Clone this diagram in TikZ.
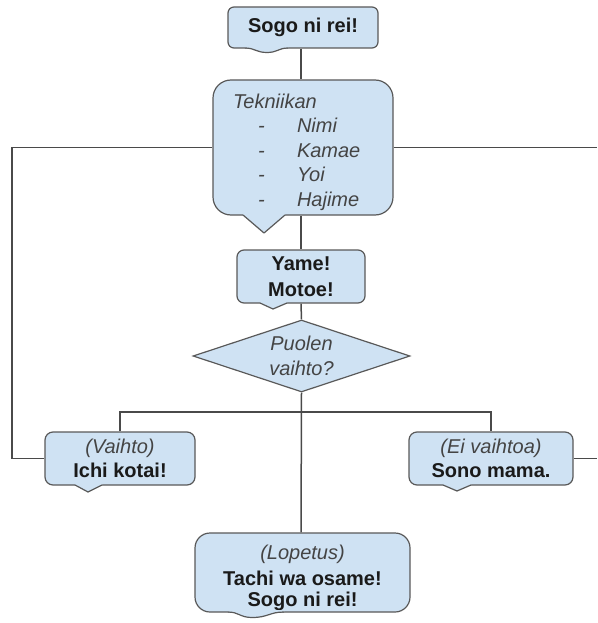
\documentclass[tikz,border=0pt]{standalone}
\usepackage{fontspec}
\setmainfont{Liberation Sans}
\usetikzlibrary{shapes.geometric,calc}
\definecolor{boxfill}{HTML}{CFE2F3}
\definecolor{boxedge}{HTML}{595959}
\definecolor{wire}{HTML}{4A4A4A}
\definecolor{itgray}{HTML}{444444}
\definecolor{bdtext}{HTML}{1A1A1A}
\pgfdeclarelayer{bg}
\pgfsetlayers{bg,main}
\tikzset{
  box/.style={draw=boxedge, line width=1.2pt, fill=boxfill, align=center,
    font=\fontsize{20}{24.5}\selectfont, text=bdtext, inner sep=0pt},
  conn/.style={draw=wire, line width=1.5pt},
  tipedge/.style={draw=boxedge, line width=1.2pt, line join=round},
}
\newcommand\itx[1]{{\itshape\color{itgray}#1}}
\newcommand\bdx[1]{{\bfseries #1}}
\newcommand\calltip[5]{%
  \fill[boxfill] (#1,#4-2) -- (#1,#4) -- (#2,#5) -- (#3,#4) -- (#3,#4-2) -- cycle;
  \draw[tipedge] (#1,#4) -- (#2,#5) -- (#3,#4);}
\newcommand\callbump[5]{%
  \fill[boxfill] (#1,#4-2) -- (#1,#4) .. controls ($(#1,#4)!0.45!(#2,#4)$) and ($(#1,#5)!0.5!(#2,#5)$) .. (#2,#5)
     .. controls ($(#2,#5)!0.5!(#3,#5)$) and ($(#2,#4)!0.55!(#3,#4)$) .. (#3,#4) -- (#3,#4-2) -- cycle;
  \draw[tipedge] (#1,#4) .. controls ($(#1,#4)!0.45!(#2,#4)$) and ($(#1,#5)!0.5!(#2,#5)$) .. (#2,#5)
     .. controls ($(#2,#5)!0.5!(#3,#5)$) and ($(#2,#4)!0.55!(#3,#4)$) .. (#3,#4);}
\begin{document}
\begin{tikzpicture}[x=1pt,y=-1pt]
\useasboundingbox (0,0) rectangle (597,623);
% nodes
\node[box, rounded corners=6pt, minimum width=150pt, minimum height=41pt] (top) at (303,27.5) {\bdx{Sogo ni rei!}};
\node[box, rounded corners=18pt, minimum width=180pt, minimum height=135pt, text width=140pt, align=left, inner xsep=20pt] (tek) at (303,147.5)
  {\rule{0pt}{24pt}\itx{Tekniikan}\\
   \makebox[64pt][l]{\hspace*{25pt}\itx{-}}\itx{Nimi}\\
   \makebox[64pt][l]{\hspace*{25pt}\itx{-}}\itx{Kamae}\\
   \makebox[64pt][l]{\hspace*{25pt}\itx{-}}\itx{Yoi}\\
   \makebox[64pt][l]{\hspace*{25pt}\itx{-}}\itx{Hajime}};
\node[box, rounded corners=7pt, minimum width=128pt, minimum height=53pt] (yame) at (301,276.5) {\bdx{Yame!}\\[1.5pt]\bdx{Motoe!}};
\node[box, shape=diamond, shape aspect=3, minimum width=217pt, minimum height=72pt] (dec) at (301.5,356) {\itx{Puolen}\\\itx{vaihto?}};
\node[box, rounded corners=8pt, minimum width=150pt, minimum height=53pt] (ichi) at (120,458.5) {\itx{(Vaihto)}\\\bdx{Ichi kotai!}};
\node[box, rounded corners=8pt, minimum width=164pt, minimum height=53pt] (sono) at (491,458.5) {\itx{(Ei vaihtoa)}\\\bdx{Sono mama.}};
\node[box, rounded corners=15pt, minimum width=215pt, minimum height=79pt] (lop) at (302.5,572.5) {\rule{0pt}{26pt}\itx{(Lopetus)}\\[1.5pt]\bdx{Tachi wa osame!}\\[-3.5pt]\bdx{Sogo ni rei!}};
% pointers
\callbump{245}{267}{288}{48}{52.5}
\calltip{243}{264}{285}{215}{233}
\calltip{260}{273}{287}{303}{309}
\calltip{75}{88}{102}{485}{492}
\calltip{443}{457}{471}{485}{491}
\callbump{228}{252}{284}{612}{617.5}
% connectors
\coordinate (spine) at (301,0);
\coordinate (busmid) at (301,412);
\coordinate (leftx) at (12,0);
\coordinate (redge1) at (597,147.5);
\coordinate (redge2) at (597,458.5);
\begin{pgfonlayer}{bg}
\draw[conn] (top.south -| spine) -- (tek.north -| spine);
\draw[conn] (tek.south -| spine) -- (yame.north -| spine);
\draw[conn] (yame.south -| spine) -- (dec.north);
\draw[conn] (dec.south) -- (lop.north -| spine);
\draw[conn] (ichi.north) |- (busmid) -| (sono.north);
\draw[conn] (tek.west) -- (tek.west -| leftx) |- (ichi.west);
\draw[conn] (tek.east) -- (redge1);
\draw[conn] (sono.east) -- (redge2);
\end{pgfonlayer}
\end{tikzpicture}
\end{document}
